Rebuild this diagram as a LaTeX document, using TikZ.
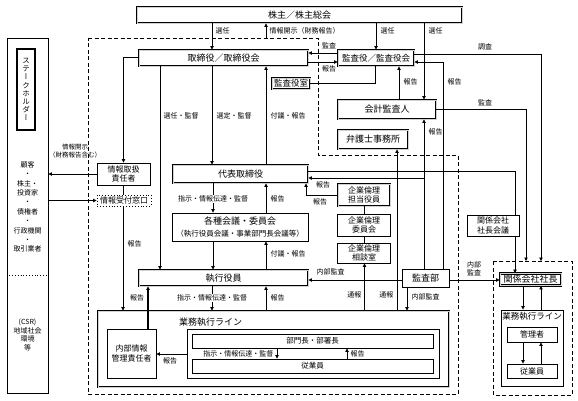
\documentclass[tikz,border=0pt]{standalone}
\usepackage{fontspec}
\setmainfont{Noto Sans CJK JP}
\newfontfamily\vjp[RawFeature={+vert}]{Noto Sans CJK JP}
\usetikzlibrary{arrows.meta}
\begin{document}
\begin{tikzpicture}[x=1pt,y=-1pt,
  dbl/.style={draw=black, line width=0.9pt, double=gray!35, double distance=1pt, inner sep=0pt, fill=white},
  sb/.style={draw, line width=0.9pt, inner sep=0pt, fill=white},
  big/.style={font=\fontsize{9}{10.5}\selectfont},
  mid/.style={font=\fontsize{8}{9.5}\selectfont},
  lab/.style={font=\fontsize{7}{8}\selectfont, inner sep=0.5pt},
  arr/.style={-{Triangle[length=3.5pt,width=3.5pt]}, line width=0.75pt},
  ln/.style={line width=0.75pt},
  dsh/.style={line width=1pt, dash pattern=on 4pt off 2.5pt}
  ]
\useasboundingbox (0,0) rectangle (578,400);
\fill[white] (0,0) rectangle (578,400);
% dashed boundaries
\draw[dsh] (88,38) -- (318,38) -- (318,155) -- (458,155) -- (458,394) -- (88,394) -- cycle;
\draw[dsh] (493,261) rectangle (572,395);

% nodes
\node[dbl, big, minimum width=325pt, minimum height=16pt] (kab) at (299.5,15) {株主／株主総会};
\node[draw, line width=0.9pt, minimum width=41pt, minimum height=355pt] (sh) at (27.5,215.5) {};
\node[draw, line width=1.1pt, minimum width=18pt, minimum height=81pt, inner sep=0pt, align=center, font=\vjp\fontsize{7.5}{8.2}\selectfont] (shl) at (26,89.5) {ス\\テ\\ー\\ク\\ホ\\ル\\ダ\\ー};
\node[align=center, inner sep=0pt, font=\fontsize{7}{9.35}\selectfont] (shtxt) at (27.5,207) {顧客\\・\\株主・\\投資家\\・\\債権者\\・\\行政機関\\・\\取引業者};
\node[align=center, inner sep=0pt, font=\fontsize{7}{8.6}\selectfont] (csr) at (27.5,335) {(CSR)\\地域社会\\環境\\等};
\draw[dotted, line width=0.8pt] (sh.west |- 0,275) -- (sh.east |- 0,275);

\node[dbl, big, minimum width=169pt, minimum height=16pt] (tori) at (223.5,58) {取締役／取締役会};
\node[dbl, font=\fontsize{8.5}{10}\selectfont, minimum width=76pt, minimum height=16pt] (kany) at (376,58) {監査役／監査役会};
\node[dbl, font=\fontsize{8.5}{10}\selectfont, minimum width=38pt, minimum height=11pt] (kshitsu) at (291,83.5) {監査役室};
\node[dbl, big, minimum width=98pt, minimum height=19pt] (kaikei) at (387,109.5) {会計監査人};
\node[dbl, big, minimum width=70pt, minimum height=19pt] (bengo) at (373,139.5) {弁護士事務所};
\node[sb, mid, minimum width=53pt, minimum height=22pt, align=center] (jtori) at (123.5,174) {情報取扱\\責任者};
\node[draw, dotted, line width=0.9pt, fill=white, inner sep=0pt, mid, minimum width=54pt, minimum height=11pt] (juke) at (124,200.5) {情報受付窓口};
\node[dbl, big, minimum width=135pt, minimum height=18pt] (daihyo) at (240.5,174) {代表取締役};
\node[sb, align=center, minimum width=136pt, minimum height=28pt] (kaigi) at (240,227) {{\fontsize{9}{10.5}\selectfont 各種会議・委員会}\\{\fontsize{7.5}{9}\selectfont （執行役員会議・事業部門長会議等）}};
\node[dbl, big, minimum width=169pt, minimum height=16pt] (shikko) at (223.5,278) {執行役員};
\node[dbl, mid, minimum width=52pt, minimum height=22pt, align=center] (kr1) at (364,195) {企業倫理\\担当役員};
\node[sb, mid, minimum width=53pt, minimum height=22pt, align=center] (kr2) at (364,225) {企業倫理\\委員会};
\node[sb, mid, minimum width=53pt, minimum height=20pt, align=center] (kr3) at (364,253) {企業倫理\\相談室};
\node[sb, big, minimum width=47pt, minimum height=18pt] (kbu) at (425.5,278) {監査部};
\node[sb, mid, minimum width=52pt, minimum height=21pt, align=center] (kkaigi) at (493,225.5) {関係会社\\社長会議};
\node[dbl, big, minimum width=61pt, minimum height=12pt] (kshacho) at (530.5,279.5) {関係会社社長};
\node[dbl, minimum width=351pt, minimum height=76pt] (gyomu) at (273.5,349) {};
\node[big, anchor=west, inner sep=0pt] (gyomut) at (179,322) {業務執行ライン};
\node[sb, mid, minimum width=49pt, minimum height=49pt, align=center] (naibu) at (131.5,353.5) {内部情報\\管理責任者};
\node[sb, minimum width=252pt, minimum height=49pt] (inner) at (313,353.5) {};
\node[sb, font=\fontsize{7.5}{9}\selectfont, minimum width=241pt, minimum height=14pt] (bumon) at (312.5,341) {部門長・部署長};
\node[sb, font=\fontsize{7.5}{9}\selectfont, minimum width=241pt, minimum height=14pt] (jugyo) at (312.5,366) {従業員};
\node[sb, minimum width=62pt, minimum height=76pt] (rgyomu) at (532,348) {};
\node[font=\fontsize{8.5}{10}\selectfont, anchor=north, inner sep=0pt] (rgyomut) at (532,312) {業務執行ライン};
\node[sb, mid, minimum width=50pt, minimum height=15pt] (kanri) at (532,334.5) {管理者};
\node[sb, mid, minimum width=50pt, minimum height=14pt] (jugyo2) at (532,371) {従業員};

\coordinate (jk) at (266,38);
\coordinate (rtop1) at (526,261);
\coordinate (rtop2) at (541,261);

% connectors
\draw[arr] (kab.south -| 212,0) -- (tori.north -| 212,0);
\node[lab, anchor=west] (l1) at (215,31) {選任};
\draw[arr] (jk) -- (kab.south -| jk);
\node[lab, anchor=west] (l2) at (269,31) {情報開示（財務報告）};
\draw[arr] (kab.south -| 376,0) -- (kany.north -| 376,0);
\node[lab, anchor=west] (l3) at (380,31) {選任};
\draw[arr] (kab.south -| 424,0) -- (kaikei.north -| 424,0);
\node[lab, anchor=west] (l4) at (428,31) {選任};
\draw[arr] (kany.west |- 0,53) -- (tori.east |- 0,53);
\node[lab] (l5) at (329,46) {監査};
\draw[arr] (tori.east |- 0,62) -- (kany.west |- 0,62);
\node[lab] (l6) at (329,69) {報告};
\draw[ln] (kshitsu.east) -| (kany.south -| 375,0);
\draw[arr] (kaikei.north -| 399,0) -- (kany.south -| 399,0);
\node[lab, anchor=west] (l8) at (403,82) {報告};
\draw[arr] (kbu.north -| 443,0) |- (kany.east |- 0,62);
\node[lab, anchor=west] (l9) at (447,82) {報告};
\draw[arr] (kbu.north -| 424,0) -- (kaikei.south -| 424,0);
\node[lab, anchor=west] (l10) at (428,132) {報告};
\draw[arr] (gyomu.north -| 397,0) -- (bengo.south -| 397,0);
\node[lab, anchor=east] (l11) at (394,295) {通報};
\draw[arr] (gyomu.north -| 364.5,0) -- (kr3.south -| 364.5,0);
\node[lab, anchor=east] (l12) at (362,295) {通報};
\draw[ln] (kr1.south) -- (kr2.north);
\draw[ln] (kr2.south) -- (kr3.north);
\draw[arr] (kr1.west) -| (daihyo.south -| 306,0);
\node[lab] (l14) at (320,202) {報告};
\draw[arr] (424,178) -- (daihyo.east |- 0,178);
\node[lab] (l15) at (323,185) {報告};
\draw[ln] (daihyo.east |- 0,171) -| (kkaigi.north -| 515,0);
\draw[arr] (kkaigi.south -| 515,0) -- (kshacho.north -| 515,0);
\draw[arr] (kaikei.east) -| (rtop1);
\node[lab] (l18) at (485,103) {監査};
\draw[arr] (kany.east |- 0,54) -| (rtop2);
\node[lab] (l19) at (485,47) {調査};
\draw[arr] (kbu.west |- 0,280) -- (shikko.east |- 0,280);
\node[lab, anchor=west] (l20) at (316,272) {内部監査};
\draw[arr] (kbu.south -| 407,0) -- (gyomu.north -| 407,0);
\node[lab, anchor=west] (l21) at (411,297) {内部監査};
\draw[arr] (kbu.east |- 0,280) -- (kshacho.west |- 0,280);
\node[lab, align=center] (l22) at (474,269) {内部\\監査};
\draw[arr] (tori.south -| 212,0) -- (daihyo.north -| 212,0);
\node[lab, anchor=west] (l23) at (216,116) {選定・監督};
\draw[arr] (daihyo.north -| 266,0) -- (tori.south -| 266,0);
\node[lab, anchor=west] (l24) at (270,116) {付議・報告};
\draw[arr] (tori.south -| 160,0) -- (shikko.north -| 160,0);
\node[lab, anchor=west] (l25) at (163,116) {選任・監督};
\draw[arr] (tori.west |- 0,57) -| (jtori.north);
\draw[arr] (jtori.west) -- (sh.east |- jtori.west);
\node[lab, align=center, font=\fontsize{6.5}{8}\selectfont] (l27) at (75,151) {情報開示\\（財務報告含む）};
\draw[arr] (sh.east |- juke.west) -- (juke.west);
\draw[ln] (jtori.south -| 123,0) -- (juke.north -| 123,0);
\draw[arr] (juke.south -| 123,0) -- (gyomu.north -| 123,0);
\node[lab, anchor=west] (l30) at (127,244) {報告};
\draw[arr] (daihyo.south -| 213,0) -- (kaigi.north -| 213,0);
\node[lab, fill=white] (l31) at (213,199) {指示・情報伝達・監督};
\draw[arr] (kaigi.north -| 266,0) -- (daihyo.south -| 266,0);
\node[lab, anchor=west] (l32) at (270,199) {報告};
\draw[arr] (kaigi.south -| 213,0) -- (shikko.north -| 213,0);
\draw[arr] (shikko.north -| 266,0) -- (kaigi.south -| 266,0);
\node[lab, anchor=west] (l34) at (270,254) {付議・報告};
\draw[arr] (shikko.south -| 212,0) -- (gyomu.north -| 212,0);
\node[lab, fill=white] (l35) at (212,298) {指示・情報伝達・監督};
\draw[arr] (gyomu.north -| 266,0) -- (shikko.south -| 266,0);
\node[lab, anchor=west] (l36) at (270,298) {報告};
\draw[arr, line width=1.3pt] (naibu.north -| 148,0) -- (shikko.south -| 148,0);
\node[lab] (l37) at (137,298) {報告};
\draw[arr] (inner.west |- 0,354) -- (naibu.east |- 0,354);
\node[lab] (l38) at (170,361) {報告};
\draw[arr] (bumon.south -| 277,0) -- (jugyo.north -| 277,0);
\node[lab, anchor=east] (l39) at (274,353.5) {指示・情報伝達・監督};
\draw[arr] (jugyo.north -| 347,0) -- (bumon.south -| 347,0);
\node[lab, anchor=west] (l40) at (350,353.5) {報告};
\draw[arr] (kshacho.south -| 523,0) -- (rgyomu.north -| 523,0);
\draw[arr] (rgyomu.north -| 541,0) -- (kshacho.south -| 541,0);
\draw[arr] (kanri.south -| 523,0) -- (jugyo2.north -| 523,0);
\draw[arr] (jugyo2.north -| 541,0) -- (kanri.south -| 541,0);
\end{tikzpicture}
\end{document}
